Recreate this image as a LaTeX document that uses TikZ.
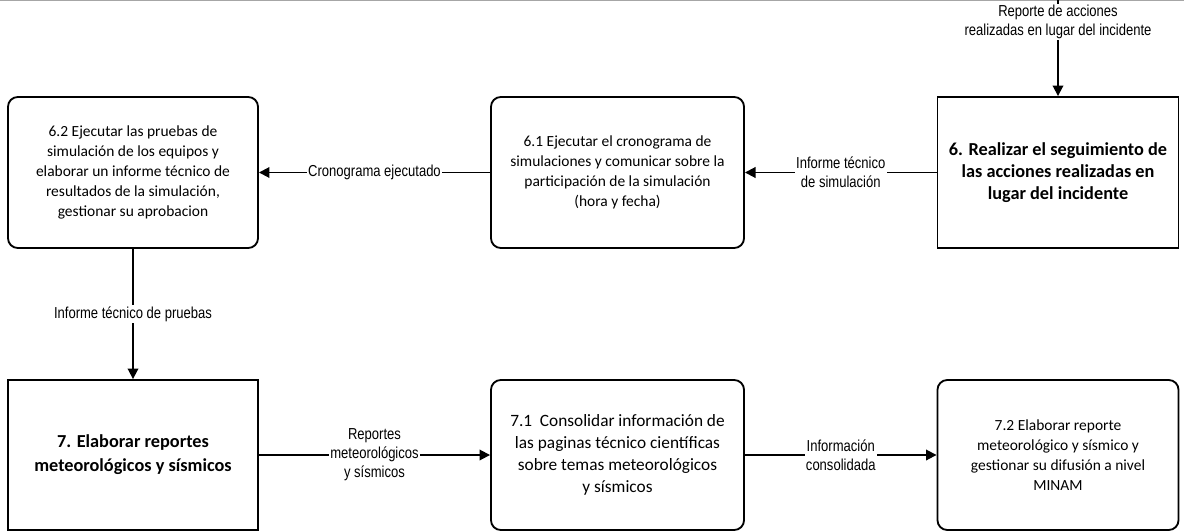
\documentclass[tikz,border=0pt]{standalone}
\usepackage{fontspec}
\setmainfont{Carlito}
\newfontfamily\narrowfont[FakeStretch=0.82]{Liberation Sans}
\usetikzlibrary{arrows.meta}

\begin{document}
\begin{tikzpicture}[x=0.025cm,y=-0.025cm,
    proc/.style={draw,line width=1.3pt,rounded corners=7pt,align=center,
      minimum height=3.775cm,inner sep=2pt,font=\fontsize{11}{14.2}\selectfont},
    mainproc/.style={draw,line width=1.3pt,align=center,
      minimum height=3.775cm,inner sep=2pt},
    flow/.style={line width=1.3pt,-{Triangle[length=7.5pt,width=7.5pt]}},
    lbl/.style={fill=white,align=center,inner sep=1pt,
      font=\narrowfont\fontsize{11.3}{13.6}\selectfont}]
  \useasboundingbox (0,0) rectangle (1184,532);
  \draw[gray!70,line width=1.5pt] (0,0) -- (1184,0);

  % fila superior
  \node[proc,minimum width=6.25cm] (p62) at (133,172.5)
    {6.2 Ejecutar las pruebas de\\simulación de los equipos y\\elaborar un informe técnico de\\resultados de la simulación,\\gestionar su aprobacion};
  \node[proc,minimum width=6.325cm] (p61) at (617.5,172.5)
    {6.1 Ejecutar el cronograma de\\simulaciones y comunicar sobre la\\participación de la simulación\\(hora y fecha)};
  \node[mainproc,minimum width=6.025cm,font=\bfseries\fontsize{13}{15.8}\selectfont] (p6) at (1058,172.5)
    {6. Realizar el seguimiento de\\las acciones realizadas en\\lugar del incidente};

  % fila inferior
  \node[mainproc,minimum width=6.25cm,minimum height=3.75cm,font=\bfseries\fontsize{13}{17}\selectfont] (p7) at (133,455)
    {7. Elaborar reportes\\meteorológicos y sísmicos};
  \node[proc,minimum width=6.325cm,minimum height=3.75cm,font=\fontsize{12.3}{15.8}\selectfont] (p71) at (617.5,455)
    {7.1 \ Consolidar información de\\las paginas técnico científicas\\sobre temas meteorológicos\\y sísmicos};
  \node[proc,minimum width=6.025cm,minimum height=3.75cm] (p72) at (1058,455)
    {7.2 Elaborar reporte\\meteorológico y sísmico y\\gestionar su difusión a nivel\\MINAM};

  \coordinate (src) at (1058,0);

  \draw[flow] (src) -- (p6) node[lbl,pos=0.23] {Reporte de acciones\\realizadas en lugar del incidente};
  \draw[flow] (p6) -- (p61) node[lbl,midway] {Informe técnico\\de simulación};
  \draw[flow] (p61) -- (p62) node[lbl,midway] {Cronograma ejecutado};
  \draw[flow] (p62) -- (p7) node[lbl,midway] {Informe técnico de pruebas};
  \draw[flow] (p7) -- (p71) node[lbl,midway] {Reportes\\meteorológicos\\y sísmicos};
  \draw[flow] (p71) -- (p72) node[lbl,midway] {Información\\consolidada};
\end{tikzpicture}
\end{document}
